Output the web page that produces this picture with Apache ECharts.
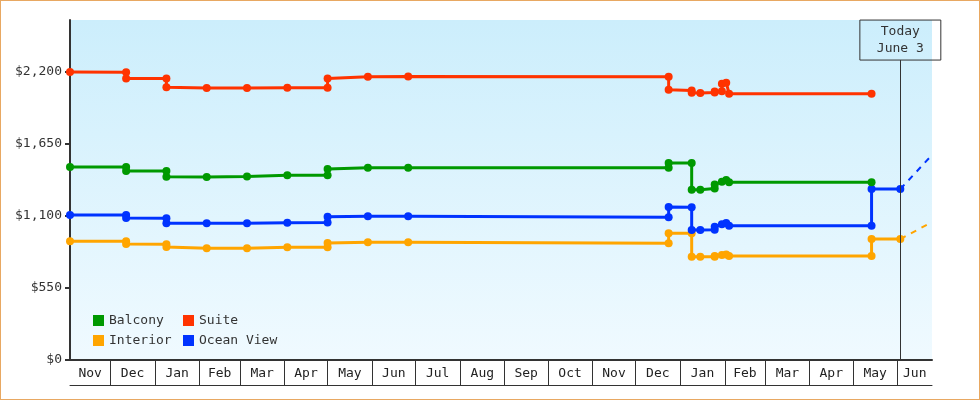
<!DOCTYPE html>
<html>
<head>
<meta charset="utf-8">
<title>Cabin prices</title>
<script src="https://cdn.jsdelivr.net/npm/echarts@6/dist/echarts.min.js"></script>
<style>
  body { margin: 0; background: #fff; }
  #wrap { position: relative; width: 980px; height: 400px; }
  #chart { width: 980px; height: 400px; }
  #frame { position: absolute; left: 0; top: 0; width: 980px; height: 400px; box-sizing: border-box; border: 1px solid #e8a862; pointer-events: none; }
</style>
</head>
<body>
<div id="wrap">
  <div id="chart"></div>
  <div id="frame"></div>
</div>
<script>
// price history, [date, price]
const balcony = [
  ['2012-11-03', 1474], ['2012-12-12', 1474], ['2012-12-12', 1444], ['2013-01-09', 1444],
  ['2013-01-09', 1400], ['2013-02-06', 1398], ['2013-03-06', 1402], ['2013-04-03', 1411],
  ['2013-05-01', 1411], ['2013-05-01', 1459], ['2013-05-29', 1469], ['2013-06-26', 1469],
  ['2013-12-24', 1469], ['2013-12-24', 1505], ['2014-01-09', 1505], ['2014-01-09', 1300],
  ['2014-01-15', 1300], ['2014-01-25', 1310], ['2014-01-25', 1340], ['2014-01-30', 1362],
  ['2014-02-02', 1375], ['2014-02-04', 1357], ['2014-05-14', 1357]
];
const suite = [
  ['2012-11-03', 2200], ['2012-12-12', 2198], ['2012-12-12', 2150], ['2013-01-09', 2150],
  ['2013-01-09', 2083], ['2013-02-06', 2078], ['2013-03-06', 2078], ['2013-04-03', 2080],
  ['2013-05-01', 2080], ['2013-05-01', 2150], ['2013-05-29', 2164], ['2013-06-26', 2166],
  ['2013-12-24', 2163], ['2013-12-24', 2065], ['2014-01-09', 2058], ['2014-01-09', 2042],
  ['2014-01-15', 2040], ['2014-01-25', 2044], ['2014-01-25', 2050], ['2014-01-30', 2052],
  ['2014-01-30', 2110], ['2014-02-02', 2118], ['2014-02-04', 2034], ['2014-05-14', 2034]
];
const interior = [
  ['2012-11-03', 907], ['2012-12-12', 907], ['2012-12-12', 886], ['2013-01-09', 884],
  ['2013-01-09', 863], ['2013-02-06', 853], ['2013-03-06', 853], ['2013-04-03', 861],
  ['2013-05-01', 861], ['2013-05-01', 894], ['2013-05-29', 899], ['2013-06-26', 899],
  ['2013-12-24', 892], ['2013-12-24', 968], ['2014-01-09', 968], ['2014-01-09', 789],
  ['2014-01-15', 789], ['2014-01-25', 789], ['2014-01-25', 795], ['2014-01-30', 802],
  ['2014-02-02', 805], ['2014-02-04', 794], ['2014-05-14', 794], ['2014-05-14', 924],
  ['2014-06-03', 924]
];
const oceanView = [
  ['2012-11-03', 1108], ['2012-12-12', 1108], ['2012-12-12', 1085], ['2013-01-09', 1083],
  ['2013-01-09', 1044], ['2013-02-06', 1044], ['2013-03-06', 1044], ['2013-04-03', 1049],
  ['2013-05-01', 1050], ['2013-05-01', 1095], ['2013-05-29', 1098], ['2013-06-26', 1098],
  ['2013-12-24', 1090], ['2013-12-24', 1168], ['2014-01-09', 1166], ['2014-01-09', 993],
  ['2014-01-15', 993], ['2014-01-25', 995], ['2014-01-25', 1018], ['2014-01-30', 1036],
  ['2014-02-02', 1046], ['2014-02-04', 1026], ['2014-05-14', 1026], ['2014-05-14', 1306],
  ['2014-06-03', 1306]
];
// projected trend after today
const interiorTrend = [['2014-06-03', 924], ['2014-06-25', 1054]];
const oceanTrend = [['2014-06-03', 1306], ['2014-06-25', 1566]];

const yTicks = [0, 550, 1100, 1650, 2200];
const monthNames = ['Jan', 'Feb', 'Mar', 'Apr', 'May', 'Jun', 'Jul', 'Aug', 'Sep', 'Oct', 'Nov', 'Dec'];
const startDate = '2012-11-03';
const endDate = '2014-06-25';
const today = '2014-06-03';
const todayText = 'Today\nJune 3';

const font = 'DejaVu Sans Mono';
const t = s => Date.parse(s);
const toPts = arr => arr.map(d => [t(d[0]), d[1]]);

const xMin = t(startDate), xMax = t(endDate);
// month boundaries
const monthStarts = [];
let d = new Date(xMin);
d = new Date(Date.UTC(d.getUTCFullYear(), d.getUTCMonth() + 1, 1));
while (d.getTime() < xMax) {
  monthStarts.push(d.getTime());
  d = new Date(Date.UTC(d.getUTCFullYear(), d.getUTCMonth() + 1, 1));
}
const edges = [xMin].concat(monthStarts, [xMax]);
const monthMids = [];
for (let i = 0; i < edges.length - 1; i++) monthMids.push((edges[i] + edges[i + 1]) / 2);

const colors = { Balcony: '#009900', Suite: '#ff3300', Interior: '#ffa500', 'Ocean View': '#0033ff' };

function solid(name, data) {
  return {
    name: name, type: 'line', data: toPts(data),
    symbol: 'circle', symbolSize: 8,
    lineStyle: { width: 3, color: colors[name] },
    itemStyle: { color: colors[name] },
    animation: false
  };
}
function dashed(name, data) {
  return {
    name: name, type: 'line', data: toPts(data),
    symbol: 'none',
    lineStyle: { width: 2, type: [6, 6], color: colors[name] },
    itemStyle: { color: colors[name] },
    animation: false
  };
}

const chart = echarts.init(document.getElementById('chart'));
const yMax = 2597;

const series = [
  solid('Interior', interior),
  solid('Ocean View', oceanView),
  solid('Balcony', balcony),
  solid('Suite', suite),
  dashed('Interior', interiorTrend),
  dashed('Ocean View', oceanTrend)
];
series[0].markLine = {
  silent: true,
  symbol: 'none',
  animation: false,
  lineStyle: { color: '#333', width: 1, type: 'solid' },
  label: {
    show: true,
    position: 'end',
    distance: 0,
    formatter: todayText,
    fontFamily: font,
    fontSize: 13,
    lineHeight: 17,
    color: '#333',
    borderColor: '#333',
    borderWidth: 1,
    padding: [3, 17, 3, 17],
    align: 'center'
  },
  data: [[{ coord: [t(today), 0] }, { coord: [t(today), 2291] }]]
};

const legendBase = {
  orient: 'vertical', top: 314, padding: 0,
  icon: 'rect', itemWidth: 11, itemHeight: 11, itemGap: 7,
  textStyle: { fontFamily: font, fontSize: 13, color: '#333' },
  selectedMode: false
};

chart.setOption({
  backgroundColor: '#fff',
  textStyle: { fontFamily: font },
  grid: {
    left: 70, right: 48, top: 20, bottom: 40,
    show: true, borderWidth: 0,
    backgroundColor: new echarts.graphic.LinearGradient(0, 0, 0, 1, [
      { offset: 0, color: '#cceefc' },
      { offset: 1, color: '#f0faff' }
    ])
  },
  legend: [
    Object.assign({}, legendBase, { data: ['Balcony', 'Interior'], left: 93 }),
    Object.assign({}, legendBase, { data: ['Suite', 'Ocean View'], left: 183 })
  ],
  xAxis: [
    {
      type: 'value', min: xMin, max: xMax, position: 'bottom',
      splitLine: { show: false },
      axisLine: { show: true, lineStyle: { color: '#333', width: 2 } },
      axisTick: { show: true, length: 25, customValues: monthStarts, lineStyle: { color: '#333', width: 1 } },
      axisLabel: {
        customValues: monthMids,
        margin: 7,
        fontFamily: font, fontSize: 13, color: '#222',
        formatter: v => monthNames[new Date(v).getUTCMonth()]
      }
    },
    {
      type: 'value', min: xMin, max: xMax, position: 'bottom', offset: 25,
      splitLine: { show: false },
      axisLine: { show: true, lineStyle: { color: '#333', width: 1 } },
      axisTick: { show: false },
      axisLabel: { show: false }
    }
  ],
  yAxis: {
    type: 'value', min: 0, max: yMax,
    splitLine: { show: false },
    axisLine: { show: true, lineStyle: { color: '#333', width: 2 } },
    axisTick: { show: true, length: 5, customValues: yTicks, lineStyle: { color: '#333', width: 2 } },
    axisLabel: {
      customValues: yTicks,
      margin: 8,
      fontFamily: font, fontSize: 13, color: '#333',
      formatter: v => '$' + v.toLocaleString('en-US')
    }
  },
  series: series
});
</script>
</body>
</html>
